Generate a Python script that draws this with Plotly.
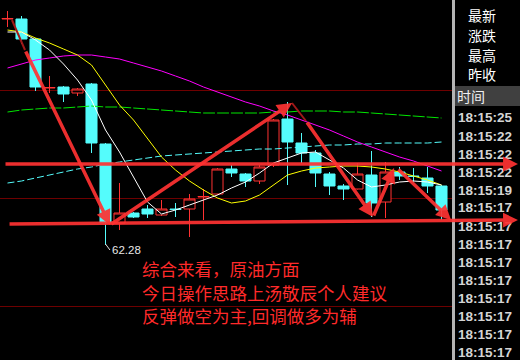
import plotly.graph_objects as go

# ---------------- data ----------------
candle_index = list(range(32))
opens = [66.80, 66.80, 66.40, 65.42, 65.44, 65.32, 65.50, 64.30, 62.72, 62.92,
         63.00, 62.88, 63.00, 63.00, 63.24, 63.30, 63.80, 63.70, 63.56, 63.88,
         64.80, 64.32, 64.12, 63.70, 63.46, 63.40, 63.68, 63.14, 63.74, 63.66,
         63.62, 63.46]
highs = [66.96, 66.86, 66.42, 65.66, 65.46, 65.42, 65.52, 64.32, 63.52, 62.94,
         63.08, 63.18, 63.12, 63.30, 63.40, 63.82, 63.88, 63.72, 63.88, 64.80,
         65.14, 64.52, 64.18, 63.74, 63.50, 63.92, 64.16, 63.94, 63.84, 63.82,
         63.84, 63.48]
lows = [66.64, 66.30, 65.36, 65.32, 65.14, 65.26, 64.12, 62.28, 62.58, 62.82,
        62.82, 62.86, 62.84, 62.44, 62.78, 63.28, 63.64, 63.44, 63.50, 63.84,
        63.48, 63.92, 63.44, 63.28, 63.18, 63.39, 62.84, 62.82, 63.58, 63.54,
        63.32, 62.78]
closes = [66.81, 66.40, 65.44, 65.43, 65.30, 65.40, 64.32, 62.72, 62.92, 62.84,
          62.90, 63.00, 62.99, 63.20, 63.25, 63.80, 63.72, 63.56, 63.84, 64.78,
          64.34, 64.12, 63.72, 63.46, 63.40, 63.70, 63.12, 63.74, 63.66, 63.65,
          63.46, 62.98]

ma_white = [66.54, 66.54, 66.38, 66.18, 65.90, 65.58, 65.18, 64.58, 64.14, 63.64,
            63.14, 62.90, 62.98, 63.08, 63.18, 63.28, 63.42, 63.54, 63.72, 63.92,
            64.02, 64.12, 64.14, 63.98, 63.82, 63.58, 63.44, 63.48, 63.54, 63.56,
            63.54, 63.48]
ma_yellow = [66.58, 66.54, 66.42, 66.32, 66.20, 66.08, 65.88, 65.48, 65.08, 64.78,
             64.42, 64.04, 63.78, 63.56, 63.38, 63.22, 63.12, 63.16, 63.28, 63.48,
             63.68, 63.76, 63.82, 63.84, 63.86, 63.86, 63.84, 63.80, 63.74, 63.66,
             63.58, 63.48]
ma_magenta = [65.82, 65.90, 65.98, 66.02, 66.06, 66.08, 66.08, 66.04, 66.00, 65.92,
              65.84, 65.76, 65.66, 65.56, 65.44, 65.34, 65.24, 65.14, 65.06, 64.96,
              64.88, 64.78, 64.68, 64.58, 64.46, 64.34, 64.24, 64.14, 64.04, 63.96,
              63.86, 63.76]
ma_green = [64.94, 64.98, 65.00, 65.02, 65.02, 65.04, 65.06, 65.04, 65.04, 65.02,
            65.00, 64.98, 64.96, 64.94, 64.92, 64.92, 64.92, 64.92, 64.92, 64.94,
            64.94, 64.96, 64.96, 64.96, 64.94, 64.94, 64.92, 64.90, 64.88, 64.86,
            64.84, 64.82]
ma_cyan = [63.52, 63.56, 63.62, 63.68, 63.74, 63.80, 63.84, 63.90, 63.94, 63.98,
           64.02, 64.06, 64.08, 64.10, 64.12, 64.14, 64.16, 64.18, 64.20, 64.20,
           64.22, 64.24, 64.26, 64.28, 64.28, 64.30, 64.30, 64.32, 64.32, 64.32,
           64.32, 64.34]

grid_levels = [65.38, 63.22, 61.06]
low_index = 7
low_price = 62.28
low_label = "62.28"

side_labels = ["最新", "涨跌", "最高", "昨收"]
time_header = "时间"
time_labels = ["18:15:25", "18:15:22", "18:15:22", "18:15:22", "18:15:19",
               "18:15:17", "18:15:17", "18:15:17", "18:15:17", "18:15:17",
               "18:15:17", "18:15:17", "18:15:17", "18:15:17"]
note_lines = ["综合来看，原油方面", "今日操作思路上汤敬辰个人建议", "反弹做空为主,回调做多为辅"]

# trend arrows: (tail index, tail price, head index, head price)
trend_arrows = [(1.25, 66.18, 7.32, 62.68),
                (7.32, 62.68, 20.32, 65.12),
                (21.32, 64.76, 26.11, 62.84),
                (26.11, 62.84, 27.61, 63.82),
                (27.82, 63.82, 31.68, 62.78),
                (-0.25, 63.90, 36.46, 63.90),
                (0.04, 62.70, 36.46, 62.78)]
thin_segments = [(0.32, 66.78, 1.25, 66.18),
                 (20.32, 65.12, 21.32, 64.76)]

# ---------------- layout helpers ----------------
W, H = 520, 360
PW = 452  # plot area width in px


def px(x):
    return x / PW


def py(y):
    return 1 - y / H


RED = "#ff3232"
CYAN = "#54fcfc"

fig = go.Figure()
for vals, col, dash in [(ma_cyan, CYAN, "7px,3px"), (ma_green, "#00e600", "12px,2px"),
                        (ma_magenta, "#ff00ff", "solid"), (ma_yellow, "#ffff00", "solid"),
                        (ma_white, "#ffffff", "solid")]:
    fig.add_trace(go.Scatter(x=candle_index, y=vals, mode="lines",
                             line=dict(color=col, width=1, dash=dash),
                             hoverinfo="skip", showlegend=False))

fig.add_trace(go.Candlestick(
    x=candle_index, open=opens, high=highs, low=lows, close=closes,
    increasing=dict(line=dict(color=RED, width=1), fillcolor="#000000"),
    decreasing=dict(line=dict(color=CYAN, width=1), fillcolor=CYAN),
    showlegend=False, hoverinfo="skip"))

shapes = []
# right panel separator and header bar
shapes.append(dict(type="rect", xref="paper", yref="paper", x0=px(452), x1=px(455),
                   y0=0, y1=1, fillcolor="#b4b4b4", line=dict(width=0), layer="above"))
shapes.append(dict(type="rect", xref="paper", yref="paper", x0=px(455), x1=px(520),
                   y0=py(106), y1=py(86), fillcolor="#404040", line=dict(width=0), layer="above"))
# leader line to the low label
shapes.append(dict(type="line", xref="x", yref="y", x0=low_index, y0=low_price + 0.02,
                   x1=low_index + 0.32, y1=low_price - 0.10,
                   line=dict(color="#e0e0e0", width=1), layer="above"))
for (x0, y0, x1, y1) in thin_segments:
    shapes.append(dict(type="line", xref="x", yref="y", x0=x0, y0=y0, x1=x1, y1=y1,
                       line=dict(color="#a01818", width=2), layer="above"))

ann = []
ann.append(dict(x=low_index + 0.32, y=low_price - 0.10, xref="x", yref="y", text=low_label,
                showarrow=False, xanchor="left", yanchor="middle", xshift=0,
                font=dict(family="Liberation Sans", size=11.5, color="#e8e8e8")))
for k, t in enumerate(note_lines):
    ann.append(dict(x=px(140), y=py([268, 292, 315][k]), xref="paper", yref="paper", text=t,
                    showarrow=False, xanchor="left", yanchor="middle",
                    font=dict(family="Noto Sans CJK SC", size=17.5, color="#ff2a2a")))
for k, t in enumerate(side_labels):
    ann.append(dict(x=px(482), y=py([15, 35, 55, 74][k]), xref="paper", yref="paper", text=t,
                    showarrow=False, xanchor="center", yanchor="middle",
                    font=dict(family="Noto Sans CJK SC", size=14, color="#ffffff")))
ann.append(dict(x=px(455), y=py(96), xref="paper", yref="paper", text=time_header,
                showarrow=False, xanchor="left", yanchor="middle",
                font=dict(family="Noto Sans CJK SC", size=14, color="#f0f0f0")))
for k, t in enumerate(time_labels):
    ann.append(dict(x=px(456), y=py(118 + 18 * k), xref="paper", yref="paper",
                    text="<b>%s</b>" % t, showarrow=False, xanchor="left", yanchor="middle",
                    font=dict(family="Liberation Sans", size=13.5, color="#d4d4d4")))
for (tx, ty, hx, hy) in trend_arrows:
    ann.append(dict(x=hx, y=hy, ax=tx, ay=ty, xref="x", yref="y", axref="x", ayref="y",
                    text="", showarrow=True, arrowhead=2, arrowsize=0.85, arrowwidth=3.5,
                    arrowcolor="rgba(255,50,50,0.92)", standoff=0))

fig.update_layout(
    width=W, height=H, margin=dict(l=0, r=W - PW, t=0, b=0),
    paper_bgcolor="#000000", plot_bgcolor="#000000",
    boxgap=0.21, boxgroupgap=0, showlegend=False,
    xaxis=dict(range=[-7.5 / 14, -7.5 / 14 + PW / 14], visible=False,
               rangeslider=dict(visible=False), fixedrange=True),
    yaxis=dict(range=[67.18 - 0.02 * H, 67.18], tickvals=grid_levels, showticklabels=False,
               showgrid=True, gridcolor="#6e0000", gridwidth=1, zeroline=False,
               showline=False, fixedrange=True),
    shapes=shapes, annotations=ann,
)

fig.write_html("out.html", config=dict(displayModeBar=False))
